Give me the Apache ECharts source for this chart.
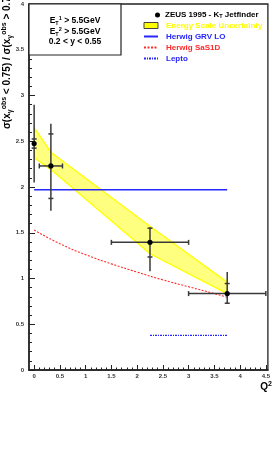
<!DOCTYPE html>
<html><head><meta charset="utf-8">
<script src="https://cdn.jsdelivr.net/npm/echarts@6/dist/echarts.min.js"></script>
<style>html,body{margin:0;padding:0;background:#fff}#c{width:273px;height:450px}</style>
</head><body><div id="c"></div>
<script>
// ---- tick labels ----
const xTickValues = [0, 0.5, 1, 1.5, 2, 2.5, 3, 3.5, 4, 4.5];
const yTickValues = [0, 0.5, 1, 1.5, 2, 2.5, 3, 3.5, 4];
// ---- ZEUS 1995 data points ----
const ptX    = [0.0, 0.325, 2.25, 3.75];
const ptY    = [2.475, 2.23, 1.395, 0.835];
const xLo    = [0.0, 0.10, 1.5, 3.0];
const xHi    = [0.0, 0.55, 3.0, 4.5];
const statLo = [2.425, 1.875, 1.235, 0.73];
const statHi = [2.525, 2.58, 1.55, 0.945];
const totLo  = [2.05, 1.74, 1.08, 0.72];
const totHi  = [2.90, 2.69, 1.56, 1.07];
// ---- energy scale uncertainty band ----
const bandX  = [0.0, 0.325, 2.25, 3.75];
const bandLo = [2.32, 2.19, 1.27, 0.835];
const bandHi = [2.65, 2.38, 1.57, 0.96];
// ---- MC predictions ----
const grvX = [0.0, 3.75];
const grvY = [1.97, 1.97];
const sasX = [0.0, 0.5, 1.0, 1.5, 2.0, 2.5, 3.0, 3.5, 3.75];
const sasY = [1.53, 1.38, 1.26, 1.16, 1.07, 0.985, 0.91, 0.835, 0.795];
const leptoX = [2.25, 3.75];
const leptoY = [0.378, 0.378];

const xMinorTicks = [];
for (let i = 0; i < xTickValues.length - 1; i++) {
  for (let k = 1; k < 5; k++) xMinorTicks.push(+(xTickValues[i] + k * 0.1).toFixed(2));
}
const FF = 'Liberation Sans, Arial, Helvetica, sans-serif';
const AX = '#222';
const zip = (a, b) => a.map((v, i) => [v, b[i]]);
const ZEUS = 'ZEUS 1995 - KT Jetfinder';
const BAND = 'Energy Scale Uncertainty';
const GRV = 'Herwig GRV LO';
const SAS = 'Herwig SaS1D';
const LEP = 'Lepto';
const BLUE = '#2626ff', RED = '#ff2a2a', YEL = '#ffff00';

const chart = echarts.init(document.getElementById('c'), null, {renderer: 'canvas'});
chart.setOption({
  backgroundColor: '#fff',
  animation: false,
  grid: {left: 29, right: 5, top: 4, bottom: 80, show: true, borderColor: AX, borderWidth: 1.3, backgroundColor: 'transparent'},
  xAxis: [{
    type: 'value', min: -0.1, max: 4.54, position: 'bottom',
    axisLine: {show: true, onZero: false, lineStyle: {color: AX, width: 1.5}},
    axisTick: {show: true, inside: true, length: 5, customValues: xTickValues, lineStyle: {color: AX, width: 1}},
    axisLabel: {show: true, customValues: xTickValues, fontSize: 6, fontWeight: 'bold', fontFamily: FF, color: '#333', margin: 3},
    splitLine: {show: false}
  }, {
    type: 'value', min: -0.1, max: 4.54, position: 'bottom', offset: 0,
    axisLine: {show: false, onZero: false},
    axisTick: {show: true, inside: true, length: 2.5, customValues: xMinorTicks, lineStyle: {color: AX, width: 1}},
    axisLabel: {show: false}, splitLine: {show: false}
  }],
  yAxis: {
    type: 'value', min: 0, max: 4, interval: 0.5,
    axisLine: {show: true, onZero: false, lineStyle: {color: AX, width: 1.5}},
    axisTick: {show: true, inside: true, length: 6, lineStyle: {color: AX, width: 1}},
    minorTick: {show: true, splitNumber: 5, length: 3, lineStyle: {color: AX, width: 1}},
    axisLabel: {fontSize: 6, fontWeight: 'bold', fontFamily: FF, color: '#333', margin: 5},
    splitLine: {show: false}, minorSplitLine: {show: false}
  },
  legend: [{
    left: 155, top: 11, orient: 'vertical', padding: 0, itemGap: 3, itemWidth: 5, itemHeight: 5,
    selectedMode: false,
    data: [{name: ZEUS, icon: 'circle', itemStyle: {color: '#000'}}],
    formatter: n => 'ZEUS 1995 - K{sub|T} Jetfinder',
    textStyle: {fontSize: 8, fontWeight: 'bold', fontFamily: FF, color: '#000',
      rich: {sub: {fontSize: 5.5, fontWeight: 'bold', fontFamily: FF, color: '#000', verticalAlign: 'bottom'}}}
  }, {
    left: 143, top: 21.5, orient: 'vertical', padding: 0, itemGap: 3, itemWidth: 14, itemHeight: 6,
    selectedMode: false,
    textStyle: {fontSize: 8, fontWeight: 'bold', fontFamily: FF, padding: [0, 0, 0, 3]},
    data: [
      {name: BAND, icon: 'rect', itemStyle: {color: YEL, borderColor: '#444', borderWidth: 1}, textStyle: {color: YEL}},
      {name: GRV, itemStyle: {opacity: 0}, textStyle: {color: BLUE}},
      {name: SAS, itemStyle: {opacity: 0}, textStyle: {color: RED}},
      {name: LEP, itemStyle: {opacity: 0}, textStyle: {color: BLUE}}
    ]
  }],
  series: [{
    type: 'custom', name: BAND, silent: true, z: 1,
    data: bandX.map((x, i) => [x, bandLo[i], bandHi[i]]),
    encode: {x: 0, y: [1, 2]},
    itemStyle: {color: YEL},
    renderItem: (params, api) => {
      if (params.dataIndex !== 0) return null;
      const pts = [];
      for (let i = 0; i < bandX.length; i++) pts.push(api.coord([bandX[i], bandHi[i]]));
      for (let i = bandX.length - 1; i >= 0; i--) pts.push(api.coord([bandX[i], bandLo[i]]));
      return {type: 'polygon', shape: {points: pts}, style: {fill: 'rgba(255,255,0,0.5)', stroke: YEL, lineWidth: 1.3}};
    }
  }, {
    type: 'line', name: GRV, data: zip(grvX, grvY), symbol: 'none', z: 2, silent: true,
    lineStyle: {color: BLUE, width: 1.3}, itemStyle: {color: BLUE}
  }, {
    type: 'line', name: SAS, data: zip(sasX, sasY), symbol: 'none', smooth: true, z: 2, silent: true,
    lineStyle: {color: RED, width: 1.1, type: [2, 1.5]}, itemStyle: {color: RED}
  }, {
    type: 'line', name: LEP, data: zip(leptoX, leptoY), symbol: 'none', z: 2, silent: true,
    lineStyle: {color: BLUE, width: 1.1, type: [2, 1, 1, 1]}, itemStyle: {color: BLUE}
  }, {
    type: 'custom', name: ZEUS, z: 5, silent: true,
    data: ptX.map((x, i) => [x, ptY[i], xLo[i], xHi[i], statLo[i], statHi[i], totLo[i], totHi[i]]),
    encode: {x: 0, y: 1},
    itemStyle: {color: '#000'},
    renderItem: (params, api) => {
      const x = api.value(0), y = api.value(1);
      const c = api.coord([x, y]);
      const xl = api.coord([api.value(2), y]), xh = api.coord([api.value(3), y]);
      const sl = api.coord([x, api.value(4)]), sh = api.coord([x, api.value(5)]);
      const tl = api.coord([x, api.value(6)]), th = api.coord([x, api.value(7)]);
      const st = {stroke: '#3a3a3a', lineWidth: 1.5};
      const ch = [
        {type: 'line', shape: {x1: c[0], y1: tl[1], x2: c[0], y2: th[1]}, style: st},
        {type: 'line', shape: {x1: c[0] - 2.5, y1: sl[1], x2: c[0] + 2.5, y2: sl[1]}, style: st},
        {type: 'line', shape: {x1: c[0] - 2.5, y1: sh[1], x2: c[0] + 2.5, y2: sh[1]}, style: st}
      ];
      if (xh[0] - xl[0] > 1) {
        ch.push({type: 'line', shape: {x1: xl[0], y1: c[1], x2: xh[0], y2: c[1]}, style: st});
        ch.push({type: 'line', shape: {x1: xl[0], y1: c[1] - 2.5, x2: xl[0], y2: c[1] + 2.5}, style: st});
        ch.push({type: 'line', shape: {x1: xh[0], y1: c[1] - 2.5, x2: xh[0], y2: c[1] + 2.5}, style: st});
      }
      ch.push({type: 'circle', shape: {cx: c[0], cy: c[1], r: 2.6}, style: {fill: '#000'}});
      return {type: 'group', children: ch};
    }
  }],
  graphic: [
    {type: 'rect', z: 10, shape: {x: 29, y: 4, width: 92, height: 51}, style: {fill: '#fff', stroke: AX, lineWidth: 1.2}},
    {type: 'text', z: 11, x: 75, y: 20.5, style: {text: 'E{sub|T}{sup|1} > 5.5GeV', align: 'center', verticalAlign: 'middle',
      fontSize: 8.5, fontWeight: 'bold', fontFamily: FF, fill: '#000', lineHeight: 11,
      rich: {sub: {fontSize: 5.5, fontWeight: 'bold', fontFamily: FF, verticalAlign: 'bottom'}, sup: {fontSize: 5.5, fontWeight: 'bold', fontFamily: FF, verticalAlign: 'top'}}}},
    {type: 'text', z: 11, x: 75, y: 31.5, style: {text: 'E{sub|T}{sup|2} > 5.5GeV', align: 'center', verticalAlign: 'middle',
      fontSize: 8.5, fontWeight: 'bold', fontFamily: FF, fill: '#000', lineHeight: 11,
      rich: {sub: {fontSize: 5.5, fontWeight: 'bold', fontFamily: FF, verticalAlign: 'bottom'}, sup: {fontSize: 5.5, fontWeight: 'bold', fontFamily: FF, verticalAlign: 'top'}}}},
    {type: 'text', z: 11, x: 75, y: 41.7, style: {text: '0.2 < y < 0.55', align: 'center', verticalAlign: 'middle',
      fontSize: 8.5, fontWeight: 'bold', fontFamily: FF, fill: '#000'}},
    {type: 'text', z: 11, x: 7, y: 129, rotation: Math.PI / 2,
      style: {text: 'σ(x{sub|γ}{sup|obs} < 0.75) / σ(x{sub|γ}{sup|obs} > 0.75)', align: 'left', verticalAlign: 'middle',
        fontSize: 10, fontWeight: 'bold', fontFamily: FF, fill: '#000', lineHeight: 13,
        rich: {sub: {fontSize: 7, fontWeight: 'bold', fontFamily: FF, verticalAlign: 'bottom'}, sup: {fontSize: 7, fontWeight: 'bold', fontFamily: FF, verticalAlign: 'top'}}}},
    {type: 'text', z: 11, x: 272, y: 387,
      style: {text: 'Q{sup|2}', align: 'right', verticalAlign: 'middle', fontSize: 10, fontWeight: 'bold', fontFamily: FF, fill: '#000', lineHeight: 13,
        rich: {sup: {fontSize: 7, fontWeight: 'bold', fontFamily: FF, verticalAlign: 'top'}}}}
  ]
});
</script></body></html>
